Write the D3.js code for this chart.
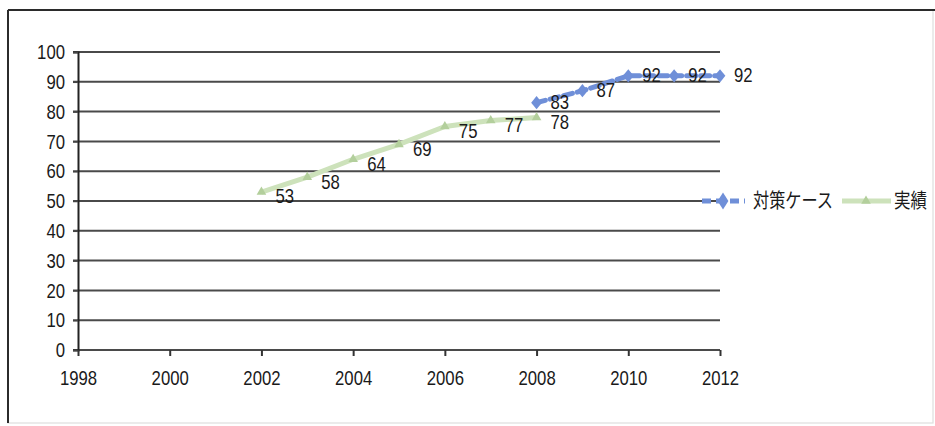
<!DOCTYPE html>
<html>
<head>
<meta charset="utf-8">
<script src="https://cdn.jsdelivr.net/npm/d3@7"></script>
<style>
  html, body { margin: 0; padding: 0; background: #fff; }
  svg { display: block; }
  .num { font-family: "Liberation Sans", Arial, sans-serif; fill: #1a1a1a; }
  .jp { font-family: "Noto Sans CJK JP", sans-serif; fill: #1a1a1a; }
</style>
</head>
<body>
<svg id="chart" width="935" height="426"></svg>
<script>
// Years and values for each series
const planYears = [2008, 2009, 2010, 2011, 2012];
const planValues = [83, 87, 92, 92, 92];
const actualYears = [2002, 2003, 2004, 2005, 2006, 2007, 2008];
const actualValues = [53, 58, 64, 69, 75, 77, 78];
const xTicks = [1998, 2000, 2002, 2004, 2006, 2008, 2010, 2012];
const yTicks = [0, 10, 20, 30, 40, 50, 60, 70, 80, 90, 100];
const seriesNames = ["対策ケース", "実績"];

const planColor = "#6f8fd8";
const actualColor = "#cde2bb";
const actualMarker = "#b3cf9c";

// Narrow digits: squeeze each number to a fixed advance per character
const digitW = 9.3;
const narrow = sel => sel
  .attr("textLength", function () { return this.textContent.length * digitW; })
  .attr("lengthAdjust", "spacingAndGlyphs");

const svg = d3.select("#chart");

// Outer frame
svg.append("rect").attr("x", 8).attr("y", 10).attr("width", 925).attr("height", 413)
  .attr("fill", "none").attr("stroke", "#dedede").attr("stroke-width", 1.2);
svg.append("line").attr("x1", 8).attr("x2", 935).attr("y1", 10).attr("y2", 10)
  .attr("stroke", "#2b2b2b").attr("stroke-width", 2);
svg.append("line").attr("x1", 8).attr("x2", 8).attr("y1", 10).attr("y2", 423)
  .attr("stroke", "#2b2b2b").attr("stroke-width", 2);

const x = d3.scaleLinear().domain([1998, 2012]).range([78, 720]);
const y = d3.scaleLinear().domain([0, 100]).range([350, 52]);

// Horizontal gridlines
svg.append("g").selectAll("line").data(yTicks).join("line")
  .attr("x1", 73).attr("x2", 720)
  .attr("y1", d => y(d)).attr("y2", d => y(d))
  .attr("stroke", "#4a4a4a").attr("stroke-width", 2);

// Y axis
const yAxis = svg.append("g").attr("transform", "translate(78,0)")
  .call(d3.axisLeft(y).tickValues(yTicks).tickSize(5).tickPadding(8));
yAxis.select(".domain").attr("stroke", "#222").attr("stroke-width", 2);
yAxis.selectAll(".tick line").attr("stroke", "#444").attr("stroke-width", 1.5);
yAxis.selectAll(".tick text").attr("class", "num").style("font-size", "21px")
  .attr("fill", "#1a1a1a").call(narrow);

// X axis
const xAxis = svg.append("g").attr("transform", "translate(0,350)")
  .call(d3.axisBottom(x).tickValues(xTicks).tickFormat(d3.format("d")).tickSize(6).tickPadding(14));
xAxis.select(".domain").remove();
xAxis.selectAll(".tick line").attr("stroke", "#333").attr("stroke-width", 2);
xAxis.selectAll(".tick text").attr("class", "num").style("font-size", "21px")
  .attr("fill", "#1a1a1a").call(narrow);

const actual = actualYears.map((yr, i) => ({ yr, v: actualValues[i] }));
const plan = planYears.map((yr, i) => ({ yr, v: planValues[i] }));

const line = d3.line().x(d => x(d.yr)).y(d => y(d.v));

// Actual series
svg.append("path").datum(actual).attr("d", line)
  .attr("fill", "none").attr("stroke", actualColor).attr("stroke-width", 5)
  .attr("stroke-linejoin", "round");
const tri = d3.symbol().type(d3.symbolTriangle).size(40);
svg.append("g").selectAll("path").data(actual).join("path")
  .attr("d", tri).attr("transform", d => `translate(${x(d.yr)},${y(d.v)})`)
  .attr("fill", actualMarker);

// Plan series
svg.append("path").datum(plan).attr("d", line)
  .attr("fill", "none").attr("stroke", planColor).attr("stroke-width", 5)
  .attr("stroke-dasharray", "9,5").attr("stroke-linecap", "round");
const dia = d3.symbol().type(d3.symbolDiamond).size(70);
svg.append("g").selectAll("path").data(plan).join("path")
  .attr("d", dia).attr("transform", d => `translate(${x(d.yr)},${y(d.v)}) scale(1.2,0.85)`)
  .attr("fill", planColor);

// Value labels
const addLabels = (data, shift) => svg.append("g").selectAll("text").data(data).join("text")
  .attr("class", "num").style("font-size", "21px")
  .attr("x", d => x(d.yr) + 14).attr("y", d => y(d.v) + shift)
  .attr("dy", "0.35em")
  .text(d => d.v)
  .call(narrow);
addLabels(actual, 4);
addLabels(plan, -1);

// Legend
const ly = 201;
const lg = svg.append("g").attr("transform", "translate(-3,0)");
lg.append("line").attr("x1", 705).attr("x2", 748).attr("y1", ly).attr("y2", ly)
  .attr("stroke", planColor).attr("stroke-width", 5).attr("stroke-dasharray", "9,5");
lg.append("path").attr("d", dia).attr("transform", `translate(726,${ly}) scale(1.2,1.1)`)
  .attr("fill", planColor);
lg.append("text").attr("class", "jp").attr("x", 756).attr("y", ly).attr("dy", "0.36em")
  .style("font-size", "20px").attr("textLength", 80).attr("lengthAdjust", "spacingAndGlyphs")
  .text(seriesNames[0]);
lg.append("line").attr("x1", 845).attr("x2", 894).attr("y1", ly).attr("y2", ly)
  .attr("stroke", actualColor).attr("stroke-width", 5);
lg.append("path").attr("d", tri).attr("transform", `translate(869,${ly})`)
  .attr("fill", actualMarker);
lg.append("text").attr("class", "jp").attr("x", 897).attr("y", ly).attr("dy", "0.36em")
  .style("font-size", "20px").attr("textLength", 33).attr("lengthAdjust", "spacingAndGlyphs")
  .text(seriesNames[1]);
</script>
</body>
</html>
